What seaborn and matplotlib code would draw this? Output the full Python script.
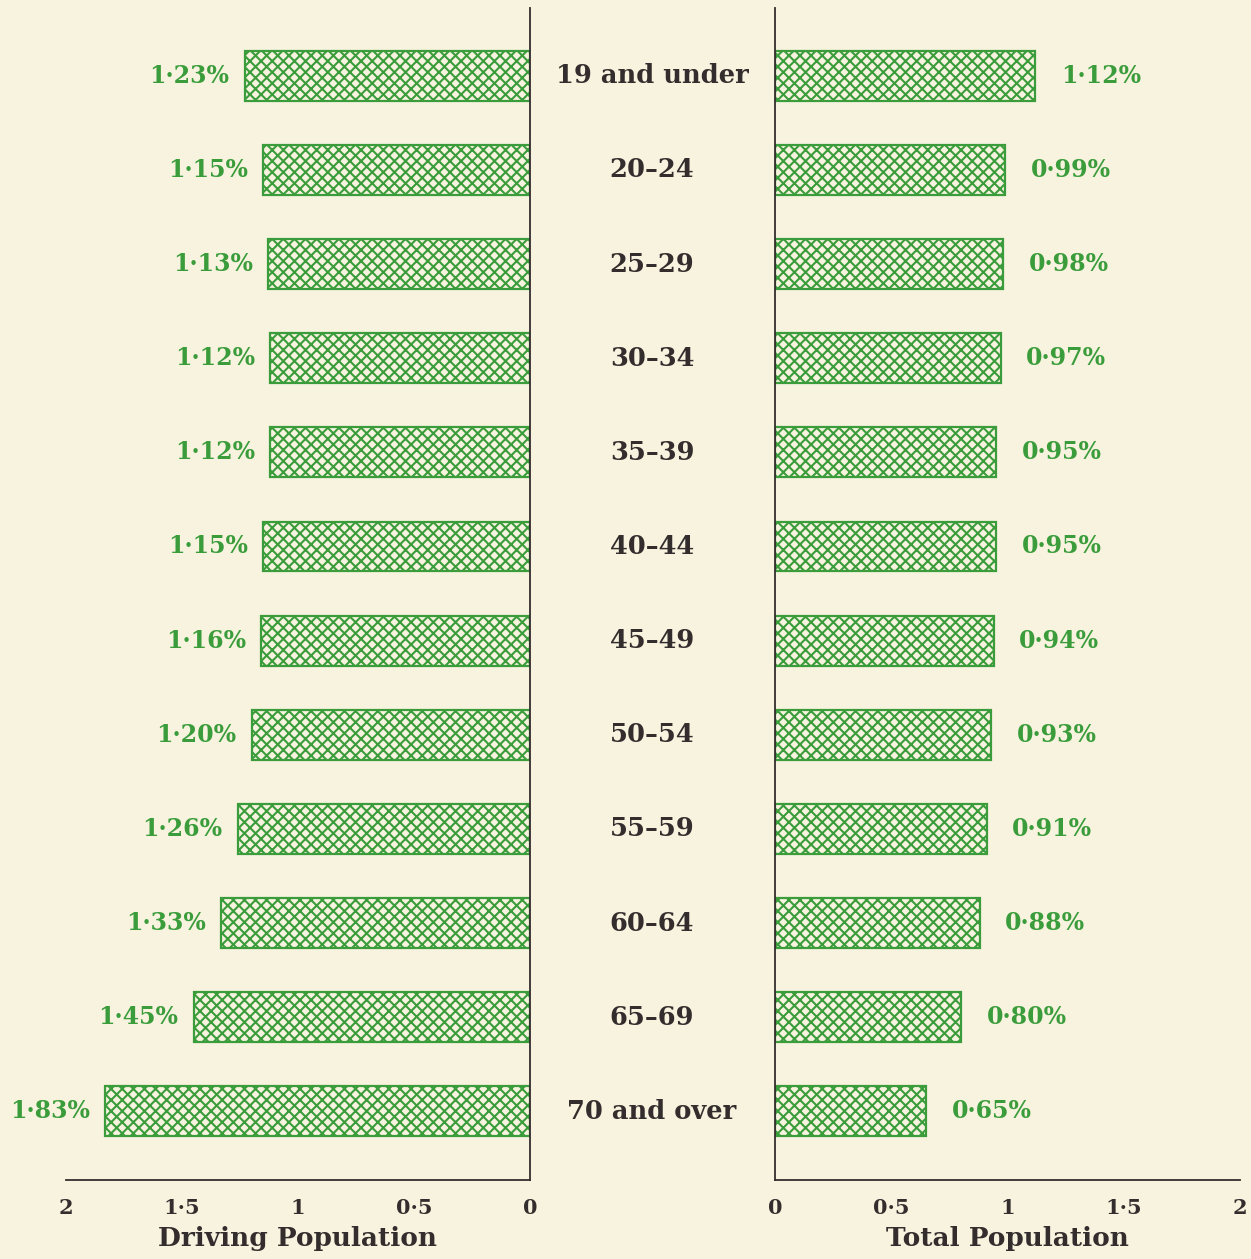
import matplotlib
matplotlib.use("Agg")
import matplotlib.pyplot as plt
import matplotlib.transforms as mtransforms
import seaborn as sns
import pandas as pd

# data
age_groups = ["19 and under", "20\u201324", "25\u201329", "30\u201334", "35\u201339", "40\u201344",
              "45\u201349", "50\u201354", "55\u201359", "60\u201364", "65\u201369", "70 and over"]
driving = [1.23, 1.15, 1.13, 1.12, 1.12, 1.15, 1.16, 1.20, 1.26, 1.33, 1.45, 1.83]
total = [1.12, 0.99, 0.98, 0.97, 0.95, 0.95, 0.94, 0.93, 0.91, 0.88, 0.80, 0.65]
tick_vals = [0, 0.5, 1, 1.5, 2]
tick_labels = ["0", "0\u00b75", "1", "1\u00b75", "2"]

df = pd.DataFrame({"age": age_groups, "driving": driving, "total": total})

bg = "#f8f3df"
green = "#3a9c3a"
ink = "#332d2d"

sns.set_style("white")
plt.rcParams["font.family"] = ["DejaVu Serif"]
plt.rcParams["hatch.linewidth"] = 1.5

fig = plt.figure(figsize=(12.51, 12.59), dpi=100, facecolor=bg)
ax_l = fig.add_axes([66 / 1251, 79 / 1259, 464 / 1251, 1172 / 1259])
ax_r = fig.add_axes([775 / 1251, 79 / 1259, 465 / 1251, 1172 / 1259])

for ax, col in [(ax_l, "driving"), (ax_r, "total")]:
    ax.set_facecolor(bg)
    sns.barplot(data=df, x=col, y="age", orient="h", ax=ax, width=0.53,
                color=bg, saturation=1, edgecolor=green, linewidth=1.6)
    for p in ax.patches:
        p.set_hatch("xxx")
        p.set_facecolor(bg)
        p.set_edgecolor(green)
    ax.set_ylim(11.73, -0.72)
    ax.set_xlim(0, 2)
    ax.set_yticks([])
    ax.set_ylabel("")
    ax.set_xticks(tick_vals)
    ax.set_xticklabels(tick_labels, fontsize=15, fontweight="bold", color=ink)
    ax.tick_params(axis="x", direction="out", length=8, width=1.2, color=ink, pad=5)
    for s in ax.spines.values():
        s.set_color(ink)
        s.set_linewidth(1.3)

ax_l.invert_xaxis()
ax_l.spines["left"].set_visible(False)
ax_l.spines["top"].set_visible(False)
ax_r.spines["right"].set_visible(False)
ax_r.spines["top"].set_visible(False)

ax_l.set_xlabel("Driving Population", fontsize=19, fontweight="bold", color=ink, labelpad=6)
ax_r.set_xlabel("Total Population", fontsize=19, fontweight="bold", color=ink, labelpad=6)

def fmt(v):
    return f"{v:.2f}".replace(".", "\u00b7") + "%"

for i, v in enumerate(driving):
    ax_l.text(v + 0.065, i, fmt(v), ha="right", va="center", fontsize=17,
              fontweight="bold", color=green)
for i, v in enumerate(total):
    ax_r.text(v + 0.11, i, fmt(v), ha="left", va="center", fontsize=17,
              fontweight="bold", color=green)

# age group labels in the gap between the two panels
trans = mtransforms.blended_transform_factory(fig.transFigure, ax_l.transData)
for i, a in enumerate(age_groups):
    ax_l.text(652 / 1251, i, a, transform=trans, ha="center", va="center",
              fontsize=18.5, fontweight="bold", color=ink)

fig.savefig("out.png", dpi=100, facecolor=bg)
